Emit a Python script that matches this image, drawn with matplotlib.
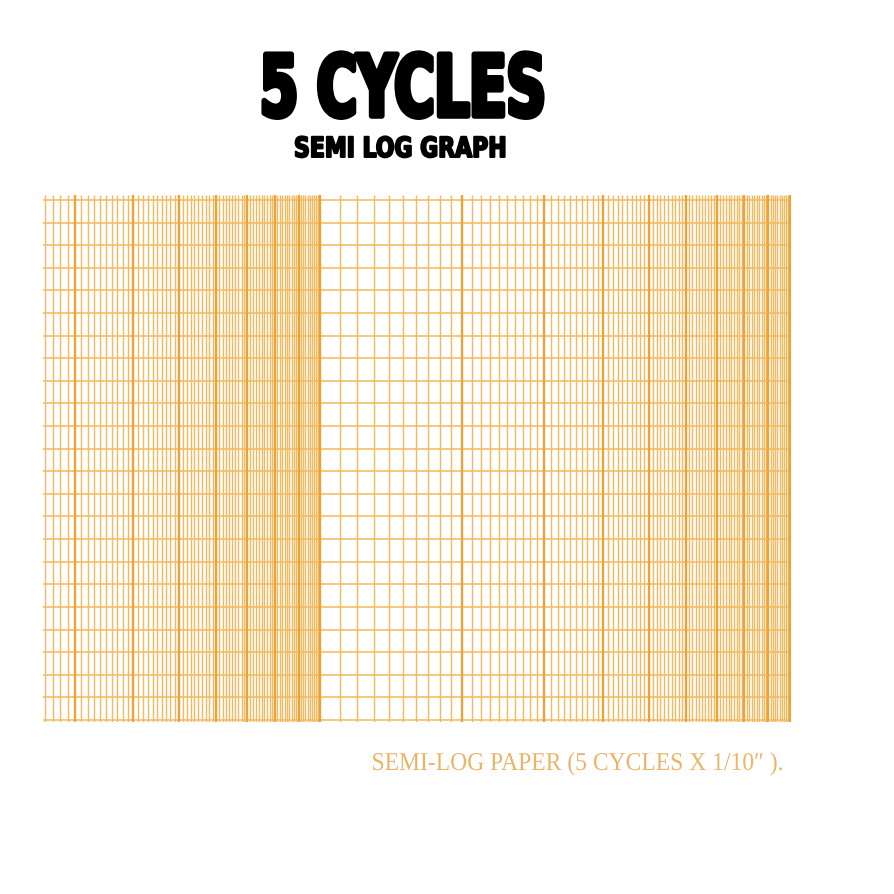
import matplotlib.pyplot as plt
import numpy as np
from matplotlib.patheffects import AbstractPathEffect
from matplotlib.transforms import Affine2D

# Semi-log paper layout
cycle_starts = [1, 10]        # two log cycles visible: 1-10 (cut) and 10-100
minor_step = 0.1              # subdivision inside each cycle
paper_start = 2.6             # scan cuts the paper here
n_rows = 23                   # linear rows of 1/10"

title = '5 CYCLES'
subtitle = 'SEMI LOG GRAPH'
footer = 'SEMI-LOG PAPER (5 CYCLES X 1/10\u2033 ).'

minor_color = '#f4b95e'
major_color = '#efa232'
footer_color = '#ebb568'


class Squeeze(AbstractPathEffect):
    """Narrow the glyphs horizontally around cx (display px), optional stroke."""
    def __init__(self, sx, cx, stroke=0.0):
        super().__init__()
        self.sx, self.cx, self.stroke = sx, cx, stroke

    def draw_path(self, renderer, gc, tpath, affine, rgbFace=None):
        aff = affine + Affine2D().translate(-self.cx, 0).scale(self.sx, 1).translate(self.cx, 0)
        gc0 = renderer.new_gc()
        gc0.copy_properties(gc)
        if self.stroke > 0 and rgbFace is not None:
            gc0.set_linewidth(self.stroke)
            gc0.set_foreground(rgbFace)
        renderer.draw_path(gc0, tpath, aff, rgbFace)
        gc0.restore()


W = H = 894
fig = plt.figure(figsize=(W / 100, H / 100), dpi=100)
fig.patch.set_facecolor('white')

# axes in pixel terms: grid spans x 43..791, y 195..722
x_left, x_right = 2.57, 100.5
ax = fig.add_axes([43 / W, (H - 722) / H, (791 - 43) / W, (722 - 195) / H])
ax.set_xscale('log')
ax.set_xlim(x_left, x_right)
ax.set_ylim(-0.09, n_rows + 0.22)
ax.axis('off')

minor_x, major_x = [], []
for c in cycle_starts:
    for v in np.round(np.arange(1.0, 10.0, minor_step), 1):
        x = c * v
        if x < paper_start - 1e-9:
            continue
        if abs(v - round(v)) < 1e-9:
            major_x.append(x)
        else:
            minor_x.append(x)
major_x.append(cycle_starts[-1] * 10)

ylo, yhi = ax.get_ylim()
ax.hlines(np.arange(n_rows + 1), x_left, cycle_starts[-1] * 10,
          color=minor_color, lw=1.1, zorder=1)
ax.vlines(minor_x, ylo, yhi, color=minor_color, lw=1.0, zorder=2)
ax.vlines(major_x, ylo, yhi, color=major_color, lw=1.7, zorder=3)

# headings
t1 = fig.text(403 / W, (H - 116) / H, title, ha='center', va='baseline',
              fontsize=61, fontweight='bold', family='Liberation Sans Narrow', color='black')
t2 = fig.text(400 / W, (H - 157) / H, subtitle, ha='center', va='baseline',
              fontsize=20, fontweight='bold', family='Liberation Sans Narrow', color='black')
t3 = fig.text(578 / W, (H - 770) / H, footer, ha='center', va='baseline',
              fontsize=18.5, family='Liberation Serif', color=footer_color)

fig.canvas.draw()
r = fig.canvas.get_renderer()
for t, target, stroke in [(t1, 286, 4.0), (t2, 212, 1.4), (t3, 413, 0.0)]:
    bb = t.get_window_extent(r)
    t.set_path_effects([Squeeze(target / bb.width, (bb.x0 + bb.x1) / 2, stroke)])

fig.savefig('out.png', dpi=100, facecolor='white')
